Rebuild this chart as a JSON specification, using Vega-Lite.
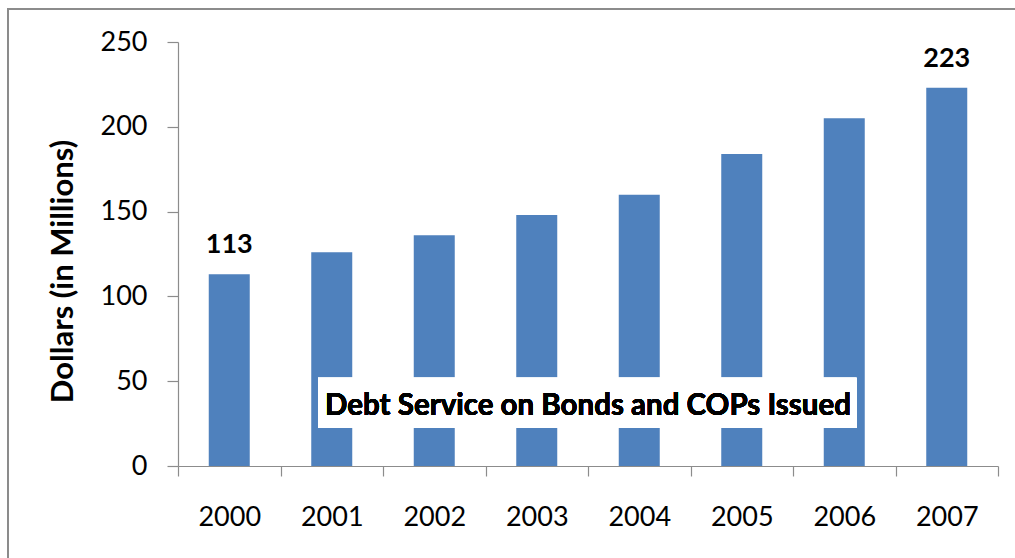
{
  "$schema": "https://vega.github.io/schema/vega-lite/v6.json",
  "width": 820,
  "height": 424,
  "autosize": "none",
  "padding": {"left": 178, "top": 42, "right": 17, "bottom": 92},
  "background": "white",
  "config": {"view": {"stroke": null}, "font": "Lato"},
  "data": {
    "values": [
      {"year": "2000", "value": 113},
      {"year": "2001", "value": 126},
      {"year": "2002", "value": 136},
      {"year": "2003", "value": 148},
      {"year": "2004", "value": 160},
      {"year": "2005", "value": 184},
      {"year": "2006", "value": 205},
      {"year": "2007", "value": 223}
    ]
  },
  "resolve": {"scale": {"x": "independent"}, "axis": {"x": "independent"}},
  "layer": [
    {
      "mark": {"type": "rect", "fill": null, "stroke": "#8c8c8c", "strokeWidth": 1.5},
      "encoding": {
        "x": {"datum": -1.66, "type": "quantitative", "scale": {"domain": [0, 8], "nice": false, "zero": false}, "axis": null},
        "x2": {"datum": 9},
        "y": {"datum": 269.5, "type": "quantitative", "scale": {"domain": [0, 250]}},
        "y2": {"datum": -100}
      }
    },
    {
      "layer": [
        {
          "mark": {"type": "bar", "color": "#4F81BD", "width": {"band": 0.4}},
          "encoding": {
            "x": {
              "field": "year", "type": "nominal",
              "scale": {"paddingInner": 0, "paddingOuter": 0},
              "axis": {
                "title": null, "labelAngle": 0, "labelFontSize": 27, "labelColor": "#000000",
                "labelPadding": 28, "tickSize": 10, "tickBand": "extent",
                "domainColor": "#8c8c8c", "tickColor": "#8c8c8c", "domainWidth": 1.2, "tickWidth": 1.2
              }
            },
            "y": {
              "field": "value", "type": "quantitative",
              "scale": {"domain": [0, 250]},
              "axis": {
                "values": [0, 50, 100, 150, 200, 250], "grid": false,
                "labelFontSize": 27, "labelColor": "#000000", "labelPadding": 20, "tickSize": 11,
                "domainColor": "#8c8c8c", "tickColor": "#8c8c8c", "domainWidth": 1.2, "tickWidth": 1.2,
                "title": "Dollars (in Millions)", "titleFontSize": 31, "titleFontWeight": "bold",
                "titleColor": "#000000", "titleX": -115, "titleY": 229, "titleAngle": -90,
                "titleAlign": "center", "titleBaseline": "middle"
              }
            }
          }
        },
        {
          "transform": [{"filter": {"field": "year", "oneOf": ["2000", "2007"]}}],
          "mark": {"type": "text", "fontSize": 27, "fontWeight": "bold", "color": "#000000", "baseline": "alphabetic", "dy": -21},
          "encoding": {
            "x": {"field": "year", "type": "nominal"},
            "y": {"field": "value", "type": "quantitative", "scale": {"domain": [0, 250]}},
            "text": {"field": "value", "type": "quantitative"}
          }
        }
      ]
    },
    {
      "layer": [
        {
          "mark": {"type": "rect", "fill": "white"},
          "encoding": {
            "x": {"datum": 1.366, "type": "quantitative", "scale": {"domain": [0, 8], "nice": false, "zero": false}, "axis": null},
            "x2": {"datum": 6.62},
            "y": {"datum": 22.4, "type": "quantitative", "scale": {"domain": [0, 250]}},
            "y2": {"datum": 52}
          }
        },
        {
          "mark": {"type": "text", "text": "Debt Service on Bonds and COPs Issued", "fontSize": 29.5, "fontWeight": "bold", "color": "#000000", "baseline": "middle", "align": "center"},
          "encoding": {
            "x": {"datum": 4, "type": "quantitative", "scale": {"domain": [0, 8], "nice": false, "zero": false}, "axis": null},
            "y": {"datum": 35.5, "type": "quantitative", "scale": {"domain": [0, 250]}}
          }
        }
      ]
    }
  ]
}
